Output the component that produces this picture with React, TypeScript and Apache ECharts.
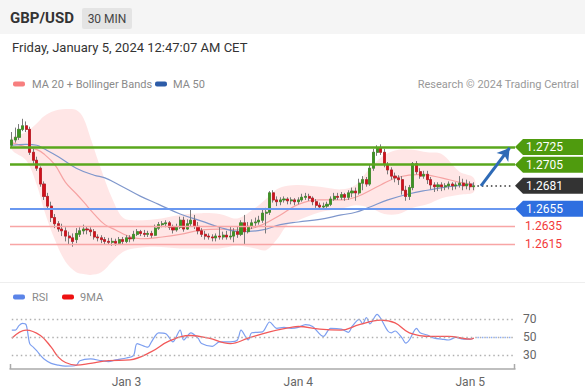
import React, { useEffect, useRef } from 'react';
import * as echarts from 'echarts';

const SLOT_COUNT = 141;
const categories = Array.from({ length: SLOT_COUNT }, (_, i) => String(i));
const xTicks = [
  { index: 32, label: 'Jan 3' },
  { index: 80, label: 'Jan 4' },
  { index: 128, label: 'Jan 5' },
];

const opens = [
  1.2727, 1.2733, 1.2736, 1.2745, 1.2749, 1.2745, 1.2719, 1.2710, 1.2701, 1.2683,
  1.2669, 1.2658, 1.2645, 1.2638, 1.2632, 1.2630, 1.2624, 1.2622, 1.2620, 1.2626,
  1.2630, 1.2632, 1.2631, 1.2629, 1.2623, 1.2622, 1.2620, 1.2618, 1.2617, 1.2618,
  1.2616, 1.2620, 1.2618, 1.2622, 1.2621, 1.2626, 1.2629, 1.2627, 1.2626, 1.2627,
  1.2625, 1.2633, 1.2637, 1.2638, 1.2639, 1.2634, 1.2631, 1.2634, 1.2642, 1.2632,
  1.2638, 1.2642, 1.2635, 1.2630, 1.2626, 1.2624, 1.2623, 1.2622, 1.2624, 1.2623,
  1.2625, 1.2623, 1.2624, 1.2629, 1.2626, 1.2639, 1.2629, 1.2635, 1.2639, 1.2640,
  1.2642, 1.2650, 1.2651, 1.2673, 1.2665, 1.2663, 1.2665, 1.2666, 1.2664, 1.2665,
  1.2663, 1.2665, 1.2668, 1.2669, 1.2667, 1.2663, 1.2659, 1.2657, 1.2658, 1.2660,
  1.2666, 1.2669, 1.2668, 1.2671, 1.2668, 1.2673, 1.2675, 1.2673, 1.2684, 1.2688,
  1.2683, 1.2701, 1.2719, 1.2724, 1.2719, 1.2705, 1.2699, 1.2692, 1.2690, 1.2688,
  1.2676, 1.2669, 1.2679, 1.2706, 1.2697, 1.2692, 1.2694, 1.2688, 1.2682, 1.2680,
  1.2682, 1.2680, 1.2681, 1.2683, 1.2681, 1.2682, 1.2684, 1.2681, 1.2683, 1.2680,
];
const closes = [
  1.2733, 1.2736, 1.2745, 1.2749, 1.2745, 1.2719, 1.2710, 1.2701, 1.2683, 1.2669,
  1.2658, 1.2645, 1.2638, 1.2632, 1.2630, 1.2624, 1.2622, 1.2618, 1.2627, 1.2630,
  1.2632, 1.2631, 1.2629, 1.2623, 1.2622, 1.2620, 1.2618, 1.2617, 1.2618, 1.2616,
  1.2620, 1.2618, 1.2622, 1.2621, 1.2626, 1.2629, 1.2627, 1.2626, 1.2627, 1.2625,
  1.2633, 1.2637, 1.2638, 1.2639, 1.2634, 1.2631, 1.2634, 1.2642, 1.2632, 1.2638,
  1.2642, 1.2635, 1.2630, 1.2626, 1.2624, 1.2623, 1.2622, 1.2624, 1.2623, 1.2625,
  1.2623, 1.2624, 1.2629, 1.2626, 1.2639, 1.2629, 1.2635, 1.2639, 1.2640, 1.2642,
  1.2650, 1.2651, 1.2673, 1.2665, 1.2663, 1.2665, 1.2666, 1.2664, 1.2665, 1.2663,
  1.2665, 1.2668, 1.2669, 1.2667, 1.2663, 1.2659, 1.2657, 1.2658, 1.2660, 1.2666,
  1.2669, 1.2668, 1.2671, 1.2668, 1.2673, 1.2675, 1.2673, 1.2684, 1.2688, 1.2683,
  1.2701, 1.2719, 1.2724, 1.2719, 1.2705, 1.2699, 1.2692, 1.2690, 1.2688, 1.2676,
  1.2669, 1.2679, 1.2706, 1.2697, 1.2692, 1.2694, 1.2688, 1.2682, 1.2680, 1.2682,
  1.2680, 1.2681, 1.2683, 1.2681, 1.2682, 1.2684, 1.2681, 1.2683, 1.2680, 1.2681,
];
const lows = [
  1.2724, 1.2730, 1.2733, 1.2743, 1.2742, 1.2716, 1.2706, 1.2698, 1.2680, 1.2665,
  1.2654, 1.2640, 1.2633, 1.2629, 1.2624, 1.2618, 1.2615, 1.2612, 1.2616, 1.2623,
  1.2626, 1.2626, 1.2624, 1.2620, 1.2618, 1.2616, 1.2615, 1.2614, 1.2613, 1.2613,
  1.2614, 1.2615, 1.2616, 1.2617, 1.2618, 1.2624, 1.2624, 1.2623, 1.2623, 1.2622,
  1.2624, 1.2631, 1.2634, 1.2634, 1.2631, 1.2627, 1.2629, 1.2632, 1.2629, 1.2631,
  1.2635, 1.2632, 1.2626, 1.2623, 1.2620, 1.2620, 1.2618, 1.2618, 1.2620, 1.2620,
  1.2620, 1.2620, 1.2617, 1.2622, 1.2624, 1.2615, 1.2627, 1.2632, 1.2634, 1.2637,
  1.2639, 1.2627, 1.2648, 1.2662, 1.2658, 1.2659, 1.2662, 1.2660, 1.2660, 1.2659,
  1.2660, 1.2663, 1.2665, 1.2664, 1.2659, 1.2656, 1.2654, 1.2654, 1.2656, 1.2658,
  1.2664, 1.2665, 1.2665, 1.2664, 1.2665, 1.2668, 1.2664, 1.2671, 1.2676, 1.2680,
  1.2681, 1.2698, 1.2715, 1.2716, 1.2702, 1.2694, 1.2688, 1.2685, 1.2682, 1.2671,
  1.2664, 1.2665, 1.2676, 1.2694, 1.2689, 1.2689, 1.2683, 1.2677, 1.2674, 1.2675,
  1.2675, 1.2676, 1.2677, 1.2676, 1.2677, 1.2679, 1.2676, 1.2677, 1.2676, 1.2676,
];
const highs = [
  1.2742, 1.2747, 1.2751, 1.2757, 1.2754, 1.2748, 1.2723, 1.2714, 1.2703, 1.2686,
  1.2673, 1.2663, 1.2649, 1.2641, 1.2638, 1.2634, 1.2629, 1.2627, 1.2633, 1.2634,
  1.2637, 1.2635, 1.2634, 1.2632, 1.2626, 1.2625, 1.2623, 1.2622, 1.2622, 1.2621,
  1.2623, 1.2623, 1.2625, 1.2625, 1.2630, 1.2632, 1.2631, 1.2631, 1.2630, 1.2630,
  1.2637, 1.2640, 1.2641, 1.2642, 1.2641, 1.2637, 1.2638, 1.2646, 1.2646, 1.2643,
  1.2654, 1.2648, 1.2640, 1.2633, 1.2630, 1.2627, 1.2626, 1.2627, 1.2635, 1.2629,
  1.2630, 1.2635, 1.2633, 1.2635, 1.2642, 1.2648, 1.2640, 1.2643, 1.2645, 1.2647,
  1.2654, 1.2656, 1.2675, 1.2676, 1.2669, 1.2668, 1.2669, 1.2668, 1.2668, 1.2667,
  1.2668, 1.2672, 1.2673, 1.2672, 1.2669, 1.2666, 1.2662, 1.2662, 1.2663, 1.2669,
  1.2673, 1.2673, 1.2674, 1.2673, 1.2676, 1.2679, 1.2679, 1.2689, 1.2692, 1.2691,
  1.2705, 1.2723, 1.2727, 1.2728, 1.2723, 1.2708, 1.2702, 1.2696, 1.2693, 1.2692,
  1.2681, 1.2682, 1.2708, 1.2709, 1.2701, 1.2698, 1.2698, 1.2691, 1.2685, 1.2685,
  1.2685, 1.2684, 1.2686, 1.2685, 1.2685, 1.2692, 1.2689, 1.2688, 1.2686, 1.2685,
];

const ma20 = [
  [0, 1.2730], [4, 1.2725], [7, 1.2722], [9, 1.2717], [12, 1.2705], [15, 1.2685], [18, 1.2672],
  [20, 1.2663], [23, 1.2649], [26, 1.2637], [29, 1.2631], [32, 1.2625], [36, 1.2621], [42, 1.2623],
  [47, 1.2626], [53, 1.2631], [58, 1.2632], [64, 1.2631], [70, 1.2637], [75, 1.2648], [80, 1.2660],
  [86, 1.2665], [92, 1.2665], [96, 1.2668], [103, 1.2682], [108, 1.2691], [114, 1.2694], [120, 1.2690],
  [125, 1.2685], [129, 1.2683],
];
const ma50 = [
  [0, 1.2727], [4, 1.2728], [7, 1.2727], [9, 1.2723], [13, 1.2714], [18, 1.2701], [23, 1.2693],
  [26, 1.2690], [30, 1.2682], [36, 1.2669], [41, 1.2660], [47, 1.2649], [53, 1.2641], [58, 1.2634],
  [64, 1.2629], [70, 1.2631], [75, 1.2637], [80, 1.2640], [86, 1.2643], [92, 1.2648], [96, 1.2651],
  [100, 1.2657], [105, 1.2665], [111, 1.2672], [116, 1.2676], [122, 1.2680], [129, 1.2683],
];
const bbIdx = [0, 4, 7, 9, 12, 15, 18, 20, 22, 25, 28, 31, 34, 40, 47, 53, 58, 63, 68, 71, 74, 77, 80, 86, 92, 96, 100, 104, 108, 112, 116, 120, 125, 129];
const bbUpper = [
  1.2735, 1.2742, 1.2752, 1.2760, 1.2766, 1.2768, 1.2767, 1.2758, 1.2735, 1.2699,
  1.2667, 1.2645, 1.2642, 1.2643, 1.2648, 1.2650, 1.2649, 1.2644, 1.2656, 1.2666,
  1.2677, 1.2681, 1.2682, 1.2680, 1.2677, 1.2682, 1.2701, 1.2716, 1.2722, 1.2722,
  1.2719, 1.2717, 1.2697, 1.2690,
];
const bbLower = [
  1.2722, 1.2710, 1.2682, 1.2654, 1.2620, 1.2595, 1.2583, 1.2581, 1.2580, 1.2583,
  1.2595, 1.2606, 1.2610, 1.2612, 1.2610, 1.2610, 1.2610, 1.2613, 1.2610, 1.2608,
  1.2620, 1.2637, 1.2642, 1.2651, 1.2655, 1.2659, 1.2656, 1.2649, 1.2649, 1.2656,
  1.2660, 1.2667, 1.2671, 1.2674,
];

const rsi = [
  [0, 58], [1, 58], [2, 63], [3, 65.5], [4, 64], [5, 43], [6, 39], [7, 35], [8, 30], [9, 26],
  [11, 21], [13, 19], [15, 18], [18, 19], [19, 24], [22, 26], [25, 24], [27, 23], [29, 25], [32, 27],
  [34, 30], [35, 43], [38, 39], [39, 45], [41, 55], [43, 54], [45, 45], [47, 58], [48, 47], [50, 55],
  [52, 49], [53, 43], [56, 40], [58, 45], [61, 45], [63, 47], [64, 58], [66, 47], [67, 55], [70, 56],
  [72, 67], [74, 60], [76, 61], [78, 60], [80, 61], [82, 64], [84, 62], [87, 51], [89, 60], [92, 59],
  [94, 55.5], [95, 62], [97, 70], [98, 65], [99, 72], [100, 65], [102, 75.5], [103, 71], [105, 57], [106, 55],
  [107, 57], [109, 49], [110, 43.5], [111, 47], [113, 60], [114, 55], [116, 52.5], [118, 49], [120, 48], [122, 47],
  [124, 50], [126, 48], [128, 48], [129, 49],
];
const rsiMa = [
  [0, 49], [4, 58], [8, 52], [11, 39], [13, 28], [15, 22], [18, 19], [22, 21], [27, 24], [33, 25],
  [39, 34], [44, 46], [50, 52], [55, 49], [61, 43], [66, 49], [72, 56], [78, 61], [80, 62], [86, 59],
  [92, 58], [97, 64], [103, 69], [107, 66], [111, 55], [117, 51], [122, 51], [128, 48], [129, 49],
];

const resistanceLevels = [1.2725, 1.2705];
const pivotLevel = 1.2655;
const supportLevels = [1.2635, 1.2615];
const lastPrice = 1.2681;
const targetPrice = 1.2724;
const rsiLevels = [30, 50, 70];
const rsiLast = 50;

const FONT = 'Roboto, "Liberation Sans", Arial, sans-serif';
const LAST_IDX = closes.length - 1;

function buildOption(): any {
  const wickData = opens.map((o, i) => [o, closes[i], lows[i], highs[i]]);
  const bodyData = opens.map((o, i) => [o, closes[i], Math.min(o, closes[i]), Math.max(o, closes[i])]);
  const tagData = [
    ...resistanceLevels.map((v) => [SLOT_COUNT - 1, v, 0]),
    [SLOT_COUNT - 1, lastPrice, 1],
    [SLOT_COUNT - 1, pivotLevel, 2],
    ...supportLevels.map((v) => [SLOT_COUNT - 1, v, 3]),
  ];
  const tickMap: Record<number, string> = {};
  xTicks.forEach((t) => (tickMap[t.index] = t.label));

  const legendText = (text: string, x: number, y: number, color = '#8a8a8a') => ({
    type: 'text', x, y, silent: true,
    style: { text, fill: color, font: `11px ${FONT}`, verticalAlign: 'middle' },
  });
  const swatch = (x: number, y: number, color: string) => ({
    type: 'rect', x, y: y - 2.5, silent: true,
    shape: { width: 12, height: 5, r: 2 },
    style: { fill: color },
  });

  const rsiLevelLines = rsiLevels.map((v) => [
    { coord: [0, v], lineStyle: { color: '#b0b0b0', width: 1.3, type: [1.5, 3] } },
    { coord: [SLOT_COUNT - 1, v] },
  ]);

  return {
    animation: false,
    textStyle: { fontFamily: FONT },
    grid: [
      { left: 10, width: 505, top: 98.5, height: 176.4 },
      { left: 10, width: 505, top: 305.8, height: 63 },
    ],
    xAxis: [
      {
        type: 'category', gridIndex: 0, data: categories, boundaryGap: true,
        axisLine: { show: false }, axisTick: { show: false }, axisLabel: { show: false }, splitLine: { show: false },
      },
      {
        type: 'category', gridIndex: 1, data: categories, boundaryGap: true,
        axisLine: { show: true, lineStyle: { color: '#aaa', width: 1.5 } },
        axisTick: { show: false },
        splitLine: { show: false },
        axisLabel: {
          show: true, color: '#666', fontSize: 12, margin: 7,
          interval: (index: number) => tickMap[index] !== undefined,
          formatter: (_v: string, index: number) => tickMap[index] ?? '',
        },
      },
    ],
    yAxis: [
      { type: 'value', gridIndex: 0, min: 1.258, max: 1.278, show: false, splitLine: { show: false } },
      { type: 'value', gridIndex: 1, min: 15, max: 85, show: false, splitLine: { show: false } },
    ],
    graphic: [
      { type: 'rect', x: 0, y: 0, shape: { width: 585, height: 34 }, style: { fill: '#f5f5f5' }, silent: true },
      { type: 'text', x: 10, y: 18, style: { text: 'GBP/USD', fill: '#333', font: `bold 15px ${FONT}`, verticalAlign: 'middle' } },
      { type: 'rect', x: 82, y: 8, shape: { width: 50, height: 21, r: 2 }, style: { fill: '#e4e4e4' } },
      { type: 'text', x: 107, y: 18.5, style: { text: '30 MIN', fill: '#444', font: `12px ${FONT}`, align: 'center', verticalAlign: 'middle' } },
      { type: 'text', x: 12, y: 47, style: { text: 'Friday, January 5, 2024 12:47:07 AM CET', fill: '#333', font: `13px ${FONT}`, verticalAlign: 'middle' } },
      swatch(13, 84, '#f77f7f'),
      legendText('MA 20 + Bollinger Bands', 32, 84),
      swatch(155, 84, '#2d5ca8'),
      legendText('MA 50', 173, 84),
      { type: 'text', x: 579, y: 84, style: { text: 'Research © 2024 Trading Central', fill: '#999', font: `11px ${FONT}`, align: 'right', verticalAlign: 'middle' } },
      { type: 'rect', x: 0, y: 282, shape: { width: 585, height: 1 }, style: { fill: '#eeeeee' }, silent: true },
      swatch(13, 297, '#5b84e8'),
      legendText('RSI', 32, 297),
      swatch(62, 297, '#ee1111'),
      legendText('9MA', 80, 297),
      { type: 'line', shape: { x1: 10.5, y1: 364, x2: 10.5, y2: 369 }, style: { stroke: '#aaa', lineWidth: 1.5 } },
      { type: 'line', shape: { x1: 514.5, y1: 364, x2: 514.5, y2: 369 }, style: { stroke: '#aaa', lineWidth: 1.5 } },
    ],
    series: [
      {
        type: 'custom', name: 'bb', xAxisIndex: 0, yAxisIndex: 0, z: 0, clip: true, silent: true,
        data: [[0, bbUpper[0]]],
        renderItem: (_params: any, api: any) => {
          const up = bbIdx.map((i, k) => api.coord([i, bbUpper[k]]));
          const lo = bbIdx.map((i, k) => api.coord([i, bbLower[k]])).reverse();
          return {
            type: 'polygon',
            shape: { points: up.concat(lo), smooth: 0.35 },
            style: { fill: 'rgba(255, 60, 60, 0.13)' },
          };
        },
      },
      {
        type: 'line', name: 'MA 20', xAxisIndex: 0, yAxisIndex: 0, data: ma20, smooth: 0.4, symbol: 'none', z: 1, silent: true,
        lineStyle: { color: '#f6a3a3', width: 1.2 },
        markLine: {
          silent: true, symbol: 'none', precision: 4, label: { show: false },
          data: [
            ...resistanceLevels.map((v) => ({ yAxis: v, lineStyle: { color: '#5aa71d', width: 2.5, type: 'solid' } })),
            { yAxis: pivotLevel, lineStyle: { color: '#6a98f0', width: 2, type: 'solid' } },
            ...supportLevels.map((v) => ({ yAxis: v, lineStyle: { color: '#f8a5a5', width: 1.3, type: 'solid' } })),
          ],
        },
      },
      {
        type: 'line', name: 'MA 50', xAxisIndex: 0, yAxisIndex: 0, data: ma50, smooth: 0.4, symbol: 'none', z: 1, silent: true,
        lineStyle: { color: '#7f97cc', width: 1.2 },
      },
      {
        type: 'candlestick', name: 'wicks', xAxisIndex: 0, yAxisIndex: 0, data: wickData, barWidth: 2.6, z: 3, silent: true,
        itemStyle: { color: '#7a7a7a', color0: '#7a7a7a', borderColor: '#7a7a7a', borderColor0: '#7a7a7a', borderWidth: 1 },
      },
      {
        type: 'candlestick', name: 'bodies', xAxisIndex: 0, yAxisIndex: 0, data: bodyData, barWidth: 2.6, z: 4, silent: true,
        itemStyle: { color: '#3d9420', color0: '#d0101b', borderColor: '#3d9420', borderColor0: '#d0101b', borderWidth: 0.6 },
        markLine: {
          silent: true, symbol: 'none', precision: 4, label: { show: false },
          data: [
            [
              { coord: [LAST_IDX + 1, lastPrice], lineStyle: { color: '#333', width: 1.5, type: [1.5, 3] } },
              { coord: [SLOT_COUNT - 1, lastPrice] },
            ],
          ],
        },
      },
      {
        type: 'line', name: 'arrow', xAxisIndex: 0, yAxisIndex: 0, data: [], z: 5, silent: true,
        markLine: {
          silent: true, symbol: ['none', 'arrow'], symbolSize: [11, 12], precision: 4, label: { show: false },
          data: [
            [
              { coord: [LAST_IDX + 2, lastPrice], lineStyle: { color: '#2e6ab6', width: 3, type: 'solid' } },
              { coord: [SLOT_COUNT - 1.8, targetPrice] },
            ],
          ],
        },
      },
      {
        type: 'custom', name: 'tags', xAxisIndex: 0, yAxisIndex: 0, z: 6, clip: false, silent: true,
        data: tagData,
        encode: { x: 0, y: 1 },
        renderItem: (params: any, api: any) => {
          const v = api.value(1) as number;
          const kind = api.value(2) as number;
          const y = api.coord([0, v])[1];
          const x0 = params.coordSys.x + params.coordSys.width;
          const label = v.toFixed(4);
          if (kind === 3) {
            return {
              type: 'text', x: x0 + 10, y,
              style: { text: label, fill: '#f23a3a', font: `12px ${FONT}`, verticalAlign: 'middle' },
            };
          }
          const fill = ['#4f9b0e', '#333333', '#2f6fe0'][kind];
          return {
            type: 'group',
            children: [
              {
                type: 'polygon',
                shape: { points: [[x0, y], [x0 + 8, y - 8], [x0 + 68, y - 8], [x0 + 68, y + 8], [x0 + 8, y + 8]] },
                style: { fill },
              },
              {
                type: 'text', x: x0 + 11, y,
                style: { text: label, fill: '#fff', font: `12px ${FONT}`, verticalAlign: 'middle' },
              },
            ],
          };
        },
      },
      {
        type: 'custom', name: 'rsiLevelLabels', xAxisIndex: 1, yAxisIndex: 1, z: 1, clip: false, silent: true,
        data: rsiLevels.map((v) => [0, v]),
        encode: { x: 0, y: 1 },
        renderItem: (params: any, api: any) => {
          const v = api.value(1) as number;
          const y = api.coord([0, v])[1];
          const cs = params.coordSys;
          return {
            type: 'text', x: cs.x + cs.width + 8, y,
            style: { text: String(v), fill: '#666', font: `12px ${FONT}`, verticalAlign: 'middle' },
          };
        },
      },
      {
        type: 'line', name: 'RSI', xAxisIndex: 1, yAxisIndex: 1, data: rsi, smooth: 0.3, symbol: 'none', z: 3, silent: true,
        lineStyle: { color: '#7d9ff0', width: 1.2 },
        markLine: {
          silent: true, symbol: 'none', label: { show: false },
          data: rsiLevelLines,
        },
      },
      {
        type: 'line', name: '9MA', xAxisIndex: 1, yAxisIndex: 1, data: rsiMa, smooth: 0.4, symbol: 'none', z: 4, silent: true,
        lineStyle: { color: '#f25a5a', width: 1.3 },
        markLine: {
          silent: true, symbol: 'none', label: { show: false },
          data: [
            [
              { coord: [LAST_IDX + 1, rsiLast], lineStyle: { color: '#8fb0f5', width: 1.3, type: [1.5, 3] } },
              { coord: [SLOT_COUNT - 1, rsiLast] },
            ],
          ],
        },
      },
    ],
  };
}

export default function App() {
  const ref = useRef<HTMLDivElement>(null);
  useEffect(() => {
    if (!ref.current) return;
    const chart = echarts.init(ref.current, undefined, { renderer: 'svg' });
    chart.setOption(buildOption());
    return () => chart.dispose();
  }, []);
  return (
    <div
      ref={ref}
      style={{ position: 'fixed', left: 0, top: 0, width: 585, height: 392, background: '#fff' }}
    />
  );
}
